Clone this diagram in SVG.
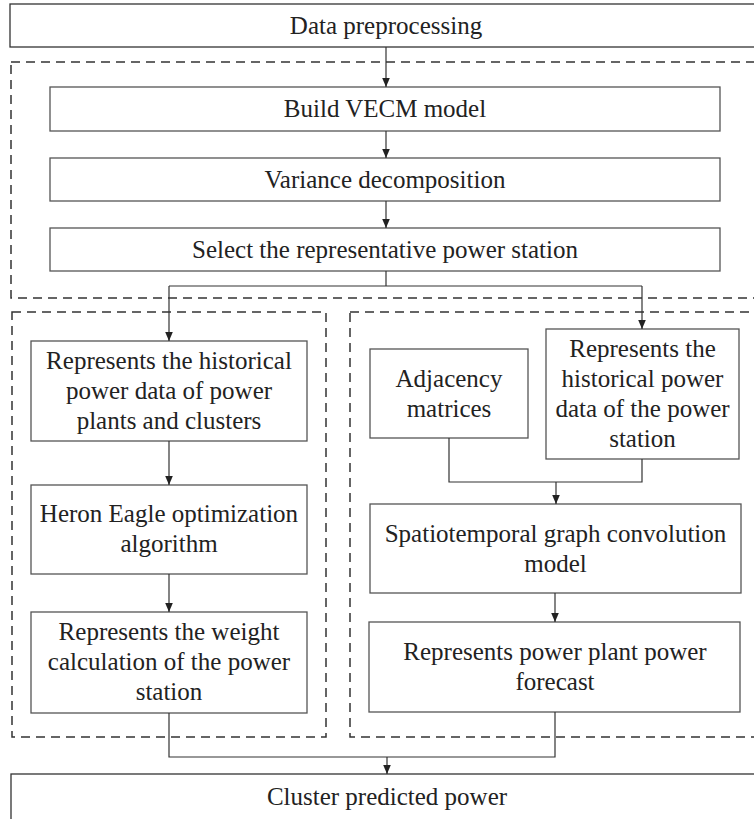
<svg xmlns="http://www.w3.org/2000/svg" width="754" height="819" viewBox="0 0 754 819">
<style>
.box{fill:#fff;stroke:#555;stroke-width:1.3}
.outer{fill:#fff;stroke:#333;stroke-width:1.3}
.dash{fill:none;stroke:#333;stroke-width:1.5;stroke-dasharray:9 6}
.t{font-family:"Liberation Serif","Times New Roman",serif;font-size:25px;fill:#222;text-anchor:middle}
.c{fill:none;stroke:#333;stroke-width:1.2}
</style>
<defs>
<marker id="ah" markerUnits="userSpaceOnUse" markerWidth="10" markerHeight="10" viewBox="0 0 10 10" refX="9" refY="5" orient="auto">
<path d="M0,1.2 L9,5 L0,8.8 Z" fill="#222"/>
</marker>
</defs>
<rect width="754" height="819" fill="#fff"/>
<g id="groups">
<rect class="dash" x="11" y="62" width="760" height="236"/>
<rect class="dash" x="12" y="312" width="314" height="425"/>
<rect class="dash" x="350" y="312" width="420" height="425"/>
</g>
<g id="n-data">
<rect class="outer" x="10" y="4" width="752" height="43"/>
<text class="t" x="386" y="33.5">Data preprocessing</text>
</g>
<g id="n-vecm">
<rect class="box" x="50" y="87" width="670" height="44"/>
<text class="t" x="385" y="117">Build VECM model</text>
</g>
<g id="n-variance">
<rect class="box" x="50" y="158" width="670" height="43"/>
<text class="t" x="385" y="187.5">Variance decomposition</text>
</g>
<g id="n-select">
<rect class="box" x="50" y="228" width="670" height="43"/>
<text class="t" x="385" y="257.5">Select the representative power station</text>
</g>
<g id="n-hist-plants">
<rect class="box" x="31" y="341" width="276" height="100"/>
<text class="t" x="169" y="369">Represents the historical</text>
<text class="t" x="169" y="399">power data of power</text>
<text class="t" x="169" y="429">plants and clusters</text>
</g>
<g id="n-heron">
<rect class="box" x="31" y="485" width="276" height="89"/>
<text class="t" x="169" y="522">Heron Eagle optimization</text>
<text class="t" x="169" y="552">algorithm</text>
</g>
<g id="n-weight">
<rect class="box" x="31" y="612" width="276" height="101"/>
<text class="t" x="169" y="640">Represents the weight</text>
<text class="t" x="169" y="670">calculation of the power</text>
<text class="t" x="169" y="700">station</text>
</g>
<g id="n-adjacency">
<rect class="box" x="370" y="349" width="158" height="89"/>
<text class="t" x="449" y="387">Adjacency</text>
<text class="t" x="449" y="417">matrices</text>
</g>
<g id="n-hist-station">
<rect class="box" x="546" y="329" width="193" height="130"/>
<text class="t" x="642.5" y="357">Represents the</text>
<text class="t" x="642.5" y="387">historical power</text>
<text class="t" x="642.5" y="417">data of the power</text>
<text class="t" x="642.5" y="447">station</text>
</g>
<g id="n-stgcn">
<rect class="box" x="370" y="504" width="371" height="89"/>
<text class="t" x="555.5" y="542">Spatiotemporal graph convolution</text>
<text class="t" x="555.5" y="572">model</text>
</g>
<g id="n-forecast">
<rect class="box" x="369" y="622" width="371" height="90"/>
<text class="t" x="555" y="660">Represents power plant power</text>
<text class="t" x="555" y="690">forecast</text>
</g>
<g id="n-cluster">
<rect class="outer" x="11" y="774" width="752" height="60"/>
<text class="t" x="387" y="805">Cluster predicted power</text>
</g>
<g id="connectors">
<line class="c" x1="386" y1="47" x2="386" y2="87" marker-end="url(#ah)"/>
<line class="c" x1="386" y1="131" x2="386" y2="158" marker-end="url(#ah)"/>
<line class="c" x1="386" y1="201" x2="386" y2="228" marker-end="url(#ah)"/>
<polyline class="c" points="386,271 386,286"/>
<polyline class="c" points="169,286 642,286"/>
<line class="c" x1="169" y1="286" x2="169" y2="341" marker-end="url(#ah)"/>
<line class="c" x1="642" y1="286" x2="642" y2="329" marker-end="url(#ah)"/>
<line class="c" x1="169" y1="441" x2="169" y2="485" marker-end="url(#ah)"/>
<line class="c" x1="169" y1="574" x2="169" y2="612" marker-end="url(#ah)"/>
<polyline class="c" points="449,438 449,482 642,482 642,459"/>
<line class="c" x1="556" y1="482" x2="556" y2="504" marker-end="url(#ah)"/>
<line class="c" x1="555" y1="593" x2="555" y2="622" marker-end="url(#ah)"/>
<polyline class="c" points="169,713 169,757 555,757 555,712"/>
<line class="c" x1="387" y1="757" x2="387" y2="774" marker-end="url(#ah)"/>
</g>
</svg>
